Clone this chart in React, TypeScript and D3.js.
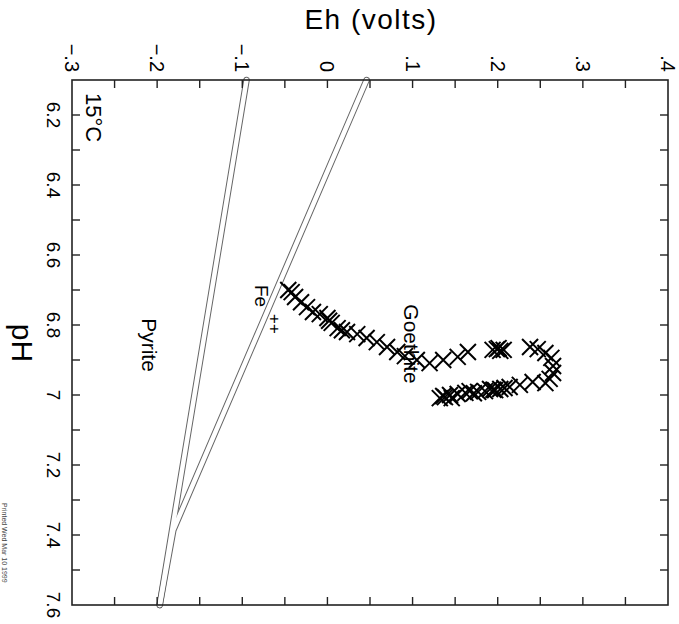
import React from "react";
import * as d3 from "d3";

const W = 679;
const H = 624;

// Axis domains
const EH_DOMAIN = [-0.3, 0.4];
const PH_DOMAIN = [6.1, 7.6];

// Tick labels
const EH_TICKS = [-0.3, -0.2, -0.1, 0, 0.1, 0.2, 0.3, 0.4];
const EH_LABELS = ["\u2212.3", "\u2212.2", "\u2212.1", "0", ".1", ".2", ".3", ".4"];
const PH_TICKS = [6.2, 6.4, 6.6, 6.8, 7.0, 7.2, 7.4, 7.6];
const PH_LABELS = ["6.2", "6.4", "6.6", "6.8", "7", "7.2", "7.4", "7.6"];

// Stability-field boundaries (pH, Eh)
const PYRITE_FE_PH = [6.1, 7.6];
const PYRITE_FE_EH = [-0.095, -0.197];
const FE_GOETHITE_PH = [6.1, 7.386, 7.6];
const FE_GOETHITE_EH = [0.046, -0.181, -0.197];

// Measured samples (pH, Eh)
const SAMPLE_PH = [
  6.7, 6.706, 6.72, 6.735, 6.749, 6.763, 6.769, 6.78, 6.788, 6.794, 6.809, 6.815,
  6.82, 6.826, 6.837, 6.849, 6.863, 6.877, 6.889, 6.9, 6.909, 6.9, 6.891, 6.877,
  6.871, 6.869, 6.874, 6.871, 6.866, 6.863, 6.869, 6.88, 6.894, 6.917, 6.937,
  6.954, 6.966, 6.963, 6.971, 6.977, 6.983, 6.986, 6.983, 6.989, 6.991, 6.989,
  6.994, 6.997, 7.0, 7.006, 7.009, 7.003, 7.009, 6.995, 6.985, 6.98,
];
const SAMPLE_EH = [
  -0.046, -0.042, -0.038, -0.031, -0.024, -0.017, -0.009, 0.0, 0.002, 0.005, 0.012,
  0.017, 0.023, 0.035, 0.046, 0.058, 0.07, 0.082, 0.091, 0.105, 0.12, 0.136,
  0.153, 0.165, 0.194, 0.199, 0.203, 0.207, 0.201, 0.238, 0.247, 0.256, 0.263,
  0.265, 0.265, 0.261, 0.256, 0.241, 0.226, 0.214, 0.203, 0.197, 0.191, 0.185,
  0.177, 0.167, 0.162, 0.153, 0.144, 0.138, 0.132, 0.136, 0.146, 0.172, 0.195,
  0.208,
];

const FONT = "'Liberation Sans', Arial, Helvetica, sans-serif";

export default function App() {
  const left = 72, right = 668, top = 80, bottom = 605;
  const x = d3.scaleLinear().domain(EH_DOMAIN).range([left, right]);
  const y = d3.scaleLinear().domain(PH_DOMAIN).range([top, bottom]);

  const ehMinor = d3.range(-0.25, 0.36, 0.05);
  const phMinor = d3.range(6.2, 7.55, 0.1);
  const tl = 8;

  const line = d3
    .line<[number, number]>()
    .x((d) => x(d[1]))
    .y((d) => y(d[0]));

  const lineA = line(PYRITE_FE_PH.map((p, i) => [p, PYRITE_FE_EH[i]] as [number, number])) || "";
  const lineB = line(FE_GOETHITE_PH.map((p, i) => [p, FE_GOETHITE_EH[i]] as [number, number])) || "";

  const s = 8;
  const cross = `M${-s},${-s}L${s},${s}M${-s},${s}L${s},${-s}`;

  const rot = (tx: number, ty: number) => `translate(${tx},${ty}) rotate(90)`;

  return (
    <svg
      width={W}
      height={H}
      style={{ position: "absolute", left: 0, top: 0, background: "#fff" }}
      fontFamily={FONT}
    >
      <rect x={0} y={0} width={W} height={H} fill="#fff" />

      {/* boundaries as double lines */}
      <g fill="none" strokeLinecap="round" strokeLinejoin="round">
        <path d={lineA} stroke="#666" strokeWidth={6.5} />
        <path d={lineB} stroke="#666" strokeWidth={6.5} />
        <path d={lineA} stroke="#fff" strokeWidth={4.5} />
        <path d={lineB} stroke="#fff" strokeWidth={4.5} />
      </g>

      {/* samples */}
      <g stroke="#000" strokeWidth={2} fill="none">
        {SAMPLE_PH.map((p, i) => (
          <path key={i} d={cross} transform={`translate(${x(SAMPLE_EH[i])},${y(p)})`} />
        ))}
      </g>

      {/* frame */}
      <rect x={left} y={top} width={right - left} height={bottom - top} fill="none" stroke="#222" strokeWidth={1.6} />

      {/* ticks */}
      <g stroke="#222" strokeWidth={1.4}>
        {ehMinor.map((v, i) => (
          <g key={"e" + i}>
            <line x1={x(v)} x2={x(v)} y1={top} y2={top + tl} />
            <line x1={x(v)} x2={x(v)} y1={bottom} y2={bottom - tl} />
          </g>
        ))}
        {phMinor.map((v, i) => (
          <g key={"p" + i}>
            <line x1={left} x2={left + tl} y1={y(v)} y2={y(v)} />
            <line x1={right} x2={right - tl} y1={y(v)} y2={y(v)} />
          </g>
        ))}
      </g>

      {/* Eh tick labels (rotated) */}
      {EH_TICKS.map((v, i) => (
        <text key={"el" + i} transform={rot(x(v) - 7, 72)} textAnchor="end" fontSize={20} fill="#000">
          {EH_LABELS[i]}
        </text>
      ))}

      {/* pH tick labels */}
      {PH_TICKS.map((v, i) => (
        <text key={"pl" + i} transform={rot(47, y(v))} textAnchor="middle" fontSize={19} fill="#000">
          {PH_LABELS[i]}
        </text>
      ))}

      {/* axis titles */}
      <text x={371} y={29} textAnchor="middle" fontSize={28} letterSpacing={1.5} fill="#000">
        Eh (volts)
      </text>
      <text transform={rot(12, 343)} textAnchor="middle" fontSize={30} fill="#000">
        pH
      </text>

      {/* field labels */}
      <text transform={rot(86, 93)} fontSize={22} fill="#000">15°C</text>
      <text transform={rot(142, 345)} textAnchor="middle" fontSize={21} fill="#000">Pyrite</text>
      <text transform={rot(404, 344)} textAnchor="middle" fontSize={21} fill="#000">Goethite</text>
      <text transform={rot(255, 285)} fontSize={19} fill="#000">Fe</text>
      <text transform={rot(269, 314)} fontSize={17} fill="#000">++</text>

      <text transform={rot(2, 503)} fontSize={7} fill="#444">Printed Wed Mar 10 1999</text>
    </svg>
  );
}
